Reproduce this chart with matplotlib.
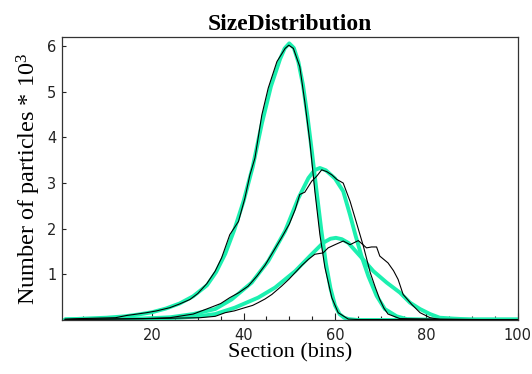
import numpy as np
import matplotlib
matplotlib.use("Agg")
import matplotlib.pyplot as plt
from matplotlib.ticker import MultipleLocator

plt.rcParams['mathtext.fontset'] = 'custom'
plt.rcParams['mathtext.rm'] = 'Liberation Serif'
plt.rcParams['mathtext.it'] = 'Liberation Serif:italic'

# measured (black) and fitted (cyan) size distributions
black1_x = [1, 4, 8, 12, 14.5, 16, 18.8, 21, 23.9, 26, 28.3, 30, 32, 33.8, 35.2, 37.0, 38.9, 40.3, 41.4,
            42.5, 44.0, 45.4, 47.3, 49.1, 49.9, 50.9, 52.3, 53.4, 54.5, 55.6, 56.7, 57.8, 59.3, 60.7, 62.9, 65, 100]
black1_y = [0.02, 0.03, 0.04, 0.05, 0.1, 0.12, 0.16, 0.2, 0.27, 0.35, 0.45, 0.58, 0.8, 1.07, 1.36, 1.87, 2.16,
            2.67, 3.18, 3.55, 4.49, 5.08, 5.66, 5.95, 6.02, 5.95, 5.55, 4.78, 3.91, 2.82, 1.87, 1.15, 0.49, 0.16,
            0.02, 0.01, 0.01]

cyan1_x = [1, 5, 10, 14, 17, 20, 23, 26, 29, 32, 34, 36, 38, 40, 42, 44, 46, 48, 49, 50, 51, 52, 53, 54,
           55, 56, 57, 58, 59, 60, 61, 62, 63, 65, 100]
cyan1_y = [0.01, 0.03, 0.05, 0.08, 0.12, 0.17, 0.25, 0.36, 0.52, 0.76, 1.05, 1.45, 1.98, 2.6, 3.35, 4.3,
           5.12, 5.72, 5.95, 6.06, 5.96, 5.65, 5.15, 4.45, 3.65, 2.8, 1.98, 1.25, 0.7, 0.32, 0.13, 0.05, 0.02,
           0.0, 0.0]

black2_x = [1, 10, 18, 23.9, 29, 32.7, 35, 37, 39, 41, 43, 44.7, 46.5, 48.3, 50, 51.3, 52.3, 53.4, 54.9,
            56, 57.1, 58.2, 59.3, 60.4, 61.8, 63.3, 64.7, 66.2, 67.7, 68.8, 69.8, 70.7, 71.6, 74.2, 100]
black2_y = [0.01, 0.02, 0.03, 0.05, 0.13, 0.27, 0.36, 0.49, 0.6, 0.74, 0.97, 1.2, 1.5, 1.8, 2.1, 2.42,
            2.75, 2.8, 3.04, 3.15, 3.29, 3.25, 3.18, 3.08, 3.0, 2.6, 2.13, 1.62, 1.04, 0.72, 0.45, 0.26,
            0.13, 0.03, 0.0]

cyan2_x = [1, 10, 18, 24, 29, 33.8, 37.4, 41.8, 45.4, 49.1, 52, 54.2, 55.5, 56.7, 58, 60, 61.8, 63.3,
           64.5, 65.8, 67.3, 69.1, 70.9, 73.5, 75.7, 80, 100]
cyan2_y = [0.01, 0.02, 0.03, 0.06, 0.13, 0.24, 0.45, 0.82, 1.29, 1.95, 2.67, 3.11, 3.28, 3.33, 3.28, 3.1,
           2.82, 2.3, 1.85, 1.4, 0.96, 0.53, 0.24, 0.08, 0.02, 0.01, 0.01]

black3_x = [1, 10, 20, 25, 30.5, 33.8, 36.0, 38, 40.3, 42, 43.2, 44.7, 46.2, 48.3, 50, 51.3, 52.8, 54.2,
            55.6, 57.4, 58.5, 60, 61.8, 63.3, 65.1, 66.9, 68, 69.1, 69.8, 71.6, 72.8, 73.8, 74.9, 76.8,
            78.6, 80.8, 83, 100]
black3_y = [0.01, 0.02, 0.03, 0.04, 0.05, 0.08, 0.16, 0.2, 0.27, 0.32, 0.38, 0.46, 0.56, 0.74, 0.9, 1.04,
            1.2, 1.33, 1.44, 1.47, 1.58, 1.65, 1.73, 1.65, 1.74, 1.58, 1.6, 1.6, 1.4, 1.25, 1.08, 0.89,
            0.56, 0.34, 0.16, 0.05, 0.01, 0.0]

cyan3_x = [1, 10, 20, 26, 30, 33.8, 38.1, 43.2, 46.9, 51.3, 54.9, 57.4, 59, 60.2, 61.5, 62.9, 65.5, 68.4,
           71.3, 74.2, 76.4, 78.6, 80.8, 82.9, 86, 90, 100]
cyan3_y = [0.01, 0.02, 0.03, 0.05, 0.08, 0.13, 0.27, 0.49, 0.71, 1.07, 1.44, 1.69, 1.78, 1.8, 1.77, 1.69,
           1.4, 1.07, 0.82, 0.6, 0.38, 0.24, 0.13, 0.05, 0.03, 0.01, 0.01]

fit_color = '#1cf0b0'

fig = plt.figure(figsize=(5.32, 3.74), dpi=100)
ax = fig.add_axes([0.1165, 0.1444, 0.857, 0.7567])

for fx, fy in [(cyan1_x, cyan1_y), (cyan2_x, cyan2_y), (cyan3_x, cyan3_y)]:
    ax.plot(fx, fy, color=fit_color, lw=2.8, solid_capstyle='round', solid_joinstyle='round')
for bx, by in [(black1_x, black1_y), (black2_x, black2_y), (black3_x, black3_y)]:
    ax.plot(bx, by, color='black', lw=0.8)

ax.set_xlim(0.3, 100)
ax.set_ylim(0, 6.2)
ax.set_xticks([20, 40, 60, 80, 100])
ax.xaxis.set_minor_locator(MultipleLocator(5))
ax.set_yticks([1, 2, 3, 4, 5, 6])

ax.tick_params(axis='both', which='both', direction='in', top=False, right=False,
               colors='#222222', labelsize=10.5)
ax.tick_params(axis='x', which='major', length=5, width=0.8, pad=6)
ax.tick_params(axis='x', which='minor', length=3, width=0.8)
ax.tick_params(axis='y', which='major', length=3, width=0.8, pad=4)
for lab in ax.get_xticklabels() + ax.get_yticklabels():
    lab.set_family('DejaVu Sans')

for s in ax.spines.values():
    s.set_color('#333333')
    s.set_linewidth(0.9)

ax.set_title('SizeDistribution', family='Liberation Serif', fontweight='bold', fontsize=17, pad=5)
ax.set_xlabel('Section (bins)', family='Liberation Serif', fontsize=16, labelpad=0)
ax.set_ylabel('Number of particles $*$ 10$^3$', family='Liberation Serif', fontsize=17.5, labelpad=3)

fig.savefig('out.png', dpi=100)
